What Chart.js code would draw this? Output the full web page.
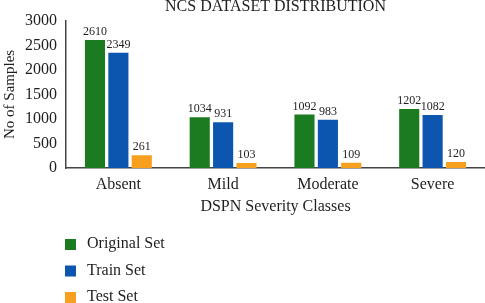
<!DOCTYPE html>
<html>
<head>
<meta charset="utf-8">
<script src="https://cdn.jsdelivr.net/npm/chart.js@4"></script>
<style>
  html, body { margin: 0; padding: 0; background: #fff; }
  #wrap { width: 485px; height: 303px; }
</style>
</head>
<body>
<div id="wrap"><canvas id="myChart" width="485" height="303"></canvas></div>
<script>
// categories and series
const categories = ['Absent', 'Mild', 'Moderate', 'Severe'];
const originalSet = [2610, 1034, 1092, 1202];
const trainSet = [2349, 931, 983, 1082];
const testSet = [261, 103, 109, 120];
const yTicks = [0, 500, 1000, 1500, 2000, 2500, 3000];

const serif = "'Liberation Serif', 'DejaVu Serif', serif";
const textColor = '#1e1e1e';

// numbers above each bar
const valueLabels = {
    id: 'valueLabels',
    afterDatasetsDraw(chart) {
        const ctx = chart.ctx;
        ctx.save();
        ctx.font = '12px ' + serif;
        ctx.fillStyle = textColor;
        ctx.textAlign = 'center';
        ctx.textBaseline = 'bottom';
        chart.data.datasets.forEach((ds, i) => {
            chart.getDatasetMeta(i).data.forEach((bar, j) => {
                ctx.fillText(ds.data[j], bar.x, bar.y - 2);
            });
        });
        ctx.restore();
    }
};

// stacked legend under the axis title
const stackedLegend = {
    id: 'stackedLegend',
    afterDraw(chart) {
        const ctx = chart.ctx;
        ctx.save();
        ctx.font = '16px ' + serif;
        ctx.textBaseline = 'middle';
        chart.data.datasets.forEach((ds, i) => {
            const y = 244 + i * 26.5;
            ctx.fillStyle = ds.backgroundColor;
            ctx.fillRect(65, y - 5, 11, 11);
            ctx.fillStyle = textColor;
            ctx.fillText(ds.label, 87, y);
        });
        ctx.restore();
    }
};

const ctx = document.getElementById('myChart').getContext('2d');
const myChart = new Chart(ctx, {
    type: 'bar',
    data: {
        labels: categories,
        datasets: [
            { label: 'Original Set', data: originalSet, backgroundColor: '#1b7b20' },
            { label: 'Train Set', data: trainSet, backgroundColor: '#0d56b0' },
            { label: 'Test Set', data: testSet, backgroundColor: '#f7a020' }
        ]
    },
    options: {
        responsive: false,
        animation: false,
        layout: { padding: { left: 0, right: 0, top: 0, bottom: 87 } },
        datasets: {
            bar: { barPercentage: 0.86, categoryPercentage: 0.67 }
        },
        plugins: {
            legend: { display: false },
            tooltip: { enabled: false },
            title: {
                display: true,
                fullSize: false,
                text: 'NCS DATASET DISTRIBUTION',
                color: textColor,
                font: { family: serif, size: 16, weight: 'normal', lineHeight: 0.8 },
                padding: { top: 0, bottom: 8 }
            }
        },
        scales: {
            x: {
                afterFit: (scale) => { scale.height = 48; },
                grid: { display: false, drawTicks: false },
                border: { display: true, color: '#444', width: 1.5 },
                ticks: { color: textColor, font: { family: serif, size: 16 }, padding: 7 },
                title: {
                    display: true,
                    text: 'DSPN Severity Classes',
                    color: textColor,
                    font: { family: serif, size: 16 },
                    padding: { top: 0, bottom: 0 }
                }
            },
            y: {
                min: 0,
                max: 3000,
                afterBuildTicks: (scale) => { scale.ticks = yTicks.map(v => ({ value: v })); },
                afterFit: (scale) => { scale.width = 66; },
                grid: { display: false, drawTicks: false },
                border: { display: true, color: '#444', width: 1.5 },
                ticks: {
                    color: textColor,
                    font: { family: serif, size: 16 },
                    padding: 9,
                    callback: (v) => String(v)
                },
                title: {
                    display: true,
                    text: 'No of Samples',
                    color: textColor,
                    font: { family: serif, size: 15 },
                    padding: { top: 1, bottom: 0 }
                }
            }
        }
    },
    plugins: [valueLabels, stackedLegend]
});
</script>
</body>
</html>
